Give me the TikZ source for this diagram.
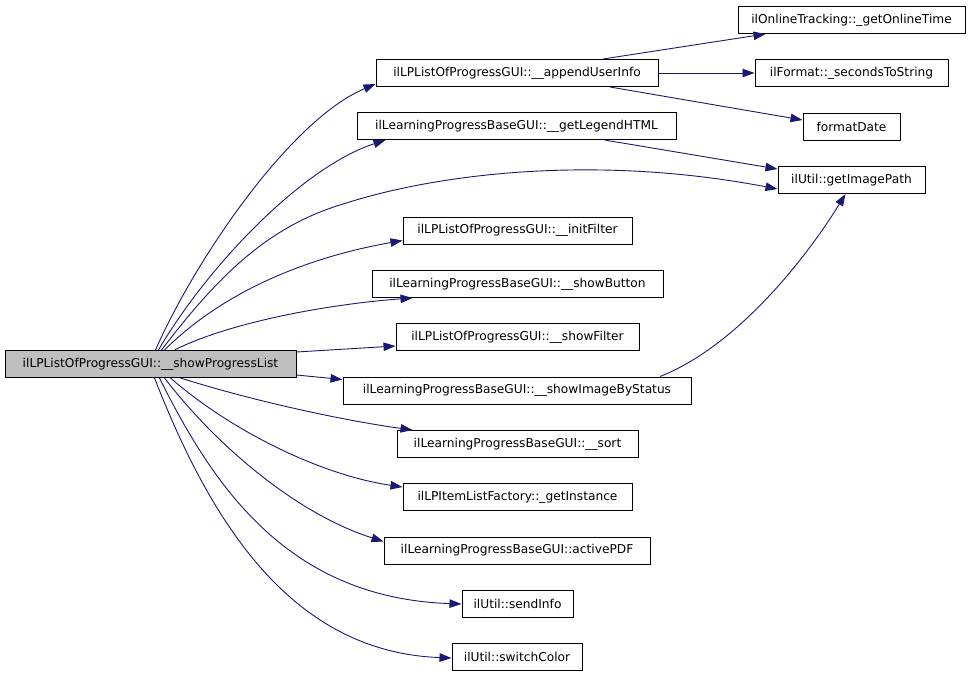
\documentclass[tikz,border=0pt]{standalone}
\usepackage{fontspec}
\setmainfont{DejaVu Sans}
\usetikzlibrary{arrows.meta}
\definecolor{edgeblue}{RGB}{25,25,112}
\definecolor{mainfill}{RGB}{191,191,191}
\tikzset{
  fn/.style={draw=black, line width=1pt, fill=white, rectangle, inner sep=0pt,
    minimum height=27pt, font=\fontsize{12.2}{14}\selectfont, text=black},
  root/.style={fn, fill=mainfill},
  call/.style={draw=edgeblue, line width=0.9pt, -{Triangle[length=12pt,width=8.5pt]}}
}
\begin{document}
\begin{tikzpicture}[x=1pt,y=-1pt]
\useasboundingbox (0,0) rectangle (971,677);
\fill[white] (0,0) rectangle (971,677);

\node[root, minimum width=291pt] (main) at (150.5,364) {ilLPListOfProgressGUI::\_\_showProgressList};
\node[fn, minimum width=282pt] (append) at (517,73) {ilLPListOfProgressGUI::\_\_appendUserInfo};
\node[fn, minimum width=319pt] (legend) at (516.5,126) {ilLearningProgressBaseGUI::\_\_getLegendHTML};
\node[fn, minimum width=229pt] (initf) at (517.5,230.5) {ilLPListOfProgressGUI::\_\_initFilter};
\node[fn, minimum width=291pt] (button) at (517.5,284) {ilLearningProgressBaseGUI::\_\_showButton};
\node[fn, minimum width=243pt] (showf) at (517.5,337) {ilLPListOfProgressGUI::\_\_showFilter};
\node[fn, minimum width=348pt] (image) at (517,390.5) {ilLearningProgressBaseGUI::\_\_showImageByStatus};
\node[fn, minimum width=241pt] (sort) at (517.5,444) {ilLearningProgressBaseGUI::\_\_sort};
\node[fn, minimum width=229pt] (inst) at (517.5,497) {ilLPItemListFactory::\_getInstance};
\node[fn, minimum width=266pt] (pdf) at (517,550.5) {ilLearningProgressBaseGUI::activePDF};
\node[fn, minimum width=111pt] (send) at (517.5,604) {ilUtil::sendInfo};
\node[fn, minimum width=130pt] (color) at (517,657) {ilUtil::switchColor};
\node[fn, minimum width=227pt] (online) at (851.5,20) {ilOnlineTracking::\_getOnlineTime};
\node[fn, minimum width=193pt] (secs) at (851.5,73) {ilFormat::\_secondsToString};
\node[fn, minimum width=97pt] (fdate) at (851.5,127) {formatDate};
\node[fn, minimum width=147pt] (imgpath) at (851.5,180) {ilUtil::getImagePath};

% edges from main
\draw[call] ([xshift=5pt]main.north) .. controls (195,260) and (290,120) .. ([yshift=-11pt]append.west);
\draw[call] ([xshift=8pt]main.north) .. controls (205,270) and (300,168) .. ([xshift=-131pt]legend.south);
\draw[call] ([xshift=11pt]main.north) .. controls (215,280) and (265,228) .. (340,205)
  .. controls (440,172) and (600,155) .. ([yshift=-9pt]imgpath.west);
\draw[call] ([xshift=14pt]main.north) .. controls (230,285) and (320,255) .. ([yshift=-10pt]initf.west);
\draw[call] ([xshift=24pt]main.north) .. controls (230,322) and (330,304) .. ([xshift=-105pt]button.south);
\draw[call] ([yshift=12pt]main.east) -- ([yshift=-9pt]showf.west);
\draw[call] ([yshift=-11pt]main.east) -- ([yshift=11pt]image.west);
\draw[call] ([xshift=30pt]main.south) .. controls (250,400) and (340,420) .. ([xshift=-105pt]sort.north);
\draw[call] ([xshift=20pt]main.south) .. controls (230,430) and (320,475) .. ([yshift=10pt]inst.west);
\draw[call] ([xshift=14pt]main.south) .. controls (220,450) and (300,515) .. ([yshift=9pt]pdf.west);
\draw[call] ([xshift=9pt]main.south) .. controls (215,490) and (290,598) .. (send.west);
\draw[call] ([xshift=4pt]main.south) .. controls (210,520) and (290,652) .. ([yshift=-1pt]color.west);

% edges from appendUserInfo
\draw[call] ([xshift=86pt]append.north) -- ([xshift=-86pt]online.south);
\draw[call] (append.east) -- (secs.west);
\draw[call] ([xshift=93pt]append.south) -- ([yshift=7pt]fdate.west);

% edges to getImagePath
\draw[call] ([xshift=88pt]legend.south) -- ([yshift=11pt]imgpath.west);
\draw[call] ([xshift=143pt]image.north) .. controls (740,345) and (810,252) .. ([xshift=-6pt]imgpath.south);
\end{tikzpicture}
\end{document}
